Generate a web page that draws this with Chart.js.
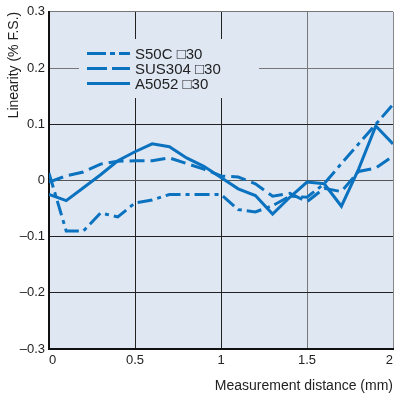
<!DOCTYPE html>
<html>
<head>
<meta charset="utf-8">
<script src="https://cdn.jsdelivr.net/npm/chart.js@4.4.1/dist/chart.umd.min.js"></script>
<style>
  html, body { margin: 0; padding: 0; background: #fff; }
  #wrap { width: 395px; height: 398px; position: relative; }
</style>
</head>
<body>
<div id="wrap"><canvas id="chart"></canvas></div>
<script>
'use strict';
// Linearity vs measurement distance, three target materials.

const distances = [0, 0.1, 0.2, 0.3, 0.4, 0.5, 0.6, 0.7, 0.8, 0.9, 1.0, 1.1, 1.2, 1.3, 1.4, 1.5, 1.6, 1.7, 1.8, 1.9, 2.0];
const s50c   = [0.013, -0.09, -0.09, -0.058, -0.065, -0.04, -0.035, -0.025, -0.025, -0.025, -0.025, -0.052, -0.056, -0.045, -0.028, -0.03, -0.006, 0.03, 0.065, 0.1, 0.135];
const sus304 = [-0.003, 0.008, 0.015, 0.029, 0.034, 0.035, 0.035, 0.04, 0.03, 0.02, 0.008, 0.006, -0.006, -0.028, -0.023, -0.038, -0.014, -0.02, 0.016, 0.022, 0.043];
const a5052  = [-0.025, -0.036, -0.013, 0.01, 0.035, 0.051, 0.065, 0.06, 0.04, 0.025, 0.005, -0.015, -0.027, -0.06, -0.03, -0.003, -0.006, -0.046, 0.02, 0.097, 0.065];

const seriesLabels = ['S50C \u25A130', 'SUS304 \u25A130', 'A5052 \u25A130'];
const xTickLabels = ['0', '0.5', '1', '1.5', '2'];
const yTickLabels = ['\u20130.3', '\u20130.2', '\u20130.1', '0', '0.1', '0.2', '0.3'];

const BLUE = '#0b72bf';
const PLOT_BG = '#dfe7f3';
const FONT = '"Liberation Sans", Arial, sans-serif';

const pts = (ys) => distances.map((x, i) => ({ x, y: ys[i] }));

// light blue plot area
const plotBg = {
  id: 'plotBg',
  beforeDraw(chart) {
    const { ctx, chartArea: a } = chart;
    ctx.save();
    ctx.fillStyle = PLOT_BG;
    ctx.fillRect(a.left, a.top, a.right - a.left, a.bottom - a.top);
    ctx.restore();
  }
};

// legend sits on a patch of plot colour that hides the grid behind it
const legendBox = {
  id: 'legendBox',
  beforeDatasetsDraw(chart) {
    const ctx = chart.ctx;
    const legendDash = [[19, 4, 5, 4], [20, 5], []];
    ctx.save();
    ctx.fillStyle = PLOT_BG;
    ctx.fillRect(79, 39, 180, 59);
    chart.data.datasets.forEach((ds, i) => {
      const y = 53.5 + i * 15;
      ctx.strokeStyle = ds.borderColor;
      ctx.lineWidth = 3;
      ctx.setLineDash(legendDash[i]);
      ctx.beginPath(); ctx.moveTo(87, y); ctx.lineTo(130, y); ctx.stroke();
      ctx.setLineDash([]);
      ctx.fillStyle = '#222';
      ctx.font = '15px ' + FONT;
      ctx.textBaseline = 'middle';
      ctx.fillText(ds.label, 135, y + 1);
    });
    ctx.restore();
  }
};

const common = { borderColor: BLUE, borderWidth: 3, pointRadius: 0, tension: 0, fill: false, borderJoinStyle: 'miter' };

new Chart(document.getElementById('chart'), {
  type: 'line',
  data: {
    datasets: [
      { ...common, label: seriesLabels[0], data: pts(s50c), borderDash: [15, 5, 4, 5] },
      { ...common, label: seriesLabels[1], data: pts(sus304), borderDash: [15, 6] },
      { ...common, label: seriesLabels[2], data: pts(a5052) },
    ]
  },
  options: {
    responsive: true, maintainAspectRatio: false, animation: false,
    layout: { padding: { top: 7, right: 2, left: 0, bottom: 0 } },
    plugins: { legend: { display: false }, tooltip: { enabled: false } },
    scales: {
      x: {
        type: 'linear', min: 0, max: 2,
        afterFit: (s) => { s.height = 49; s.paddingRight = 0; s.paddingLeft = 0; },
        ticks: { stepSize: 0.5, color: '#222', padding: 4, align: 'inner', font: { family: FONT, size: 13 },
          callback: (v, i) => xTickLabels[i] },
        grid: { drawTicks: false, lineWidth: 1,
          color: (c) => c.tick && c.tick.value === 1.5 ? '#777' : (c.tick && c.tick.value === 2 ? '#888' : '#222') },
        border: { display: true, color: '#111', width: 2 },
        title: { display: true, text: 'Measurement distance (mm)', align: 'end', color: '#222',
          font: { family: FONT, size: 14 }, padding: { top: 0, bottom: 3 } }
      },
      y: {
        min: -0.3, max: 0.3,
        afterFit: (s) => { s.width = 49; },
        ticks: { stepSize: 0.1, color: '#222', padding: 4, font: { family: FONT, size: 13 },
          callback: (v, i) => yTickLabels[i] },
        grid: { drawTicks: false, lineWidth: 1,
          color: (c) => {
            const v = c.tick ? Math.round(c.tick.value * 10) : 99;
            if (v === 2 || v === 3) return '#777';
            if (v === 0) return '#555';
            return '#222';
          } },
        border: { display: true, color: '#111', width: 2 },
        title: { display: true, text: 'Linearity (% F.S.)', align: 'end', color: '#222',
          font: { family: FONT, size: 14 }, padding: { top: 6, bottom: 0 } }
      }
    }
  },
  plugins: [plotBg, legendBox]
});
</script>
</body>
</html>
